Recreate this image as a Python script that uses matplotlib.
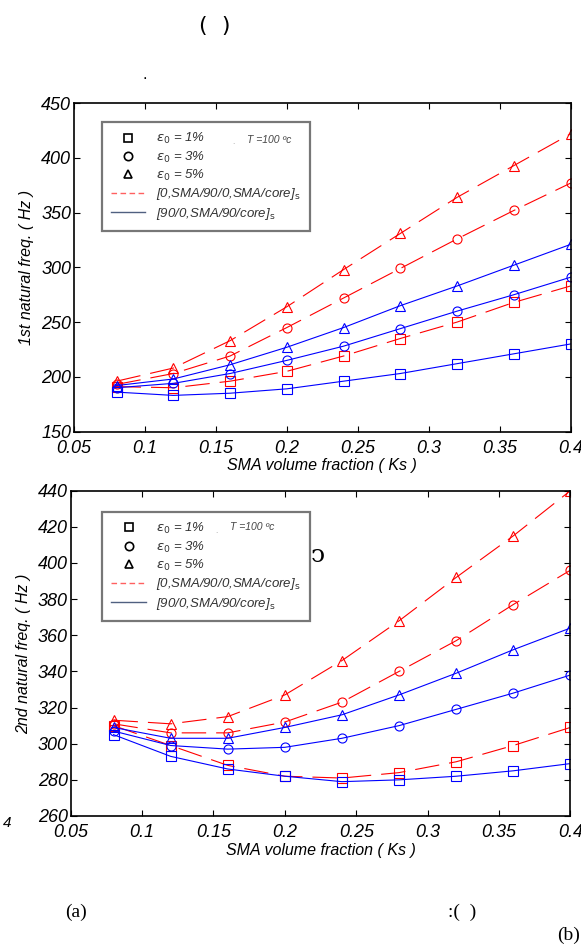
import numpy as np
import matplotlib.pyplot as plt
from matplotlib.lines import Line2D

# SMA volume fraction
ks = [0.08, 0.12, 0.16, 0.20, 0.24, 0.28, 0.32, 0.36, 0.40]

# 1st natural frequency (Hz)
f1_red_sq = [191, 190, 196, 205, 219, 235, 250, 268, 283]
f1_red_ci = [193, 203, 219, 245, 272, 299, 326, 352, 377]
f1_red_tr = [196, 208, 233, 264, 298, 331, 364, 393, 422]
f1_blu_sq = [186, 183, 185, 189, 196, 203, 212, 221, 230]
f1_blu_ci = [190, 194, 203, 215, 228, 244, 260, 275, 291]
f1_blu_tr = [192, 198, 211, 227, 245, 265, 283, 302, 321]

# 2nd natural frequency (Hz)
f2_red_sq = [310, 299, 288, 282, 281, 284, 290, 299, 309]
f2_red_ci = [311, 306, 306, 312, 323, 340, 357, 377, 396]
f2_red_tr = [313, 311, 315, 327, 346, 368, 392, 415, 440]
f2_blu_sq = [305, 293, 286, 282, 279, 280, 282, 285, 289]
f2_blu_ci = [307, 299, 297, 298, 303, 310, 319, 328, 338]
f2_blu_tr = [309, 303, 303, 309, 316, 327, 339, 352, 364]

xticks = [0.05, 0.1, 0.15, 0.2, 0.25, 0.3, 0.35, 0.4]
xtick_labels = ["0.05", "0.1", "0.15", "0.2", "0.25", "0.3", "0.35", "0.4"]

plt.rcParams['font.family'] = ['Liberation Sans', 'DejaVu Sans']

RED = "#ff0000"
BLUE = "#0000ff"
dash = (0, (22, 9))

fig = plt.figure(figsize=(5.81, 9.44), dpi=100)
fig.set_facecolor("white")


def draw_panel(ax, series, ylim, yticks, ylabel, leg_anchor):
    for y, c, m in series:
        ls = dash if c == RED else "-"
        ax.plot(ks, y, color=c, linestyle=ls, linewidth=0.8,
                marker=m, markersize=6.5, markerfacecolor="none",
                markeredgewidth=0.8)
    ax.set_xlim(0.05, 0.4)
    ax.set_ylim(*ylim)
    ax.set_xticks(xticks)
    ax.set_xticklabels(xtick_labels)
    ax.set_yticks(yticks)
    ax.tick_params(direction="in", top=True, right=True, length=4,
                   width=0.8, labelsize=13, pad=2)
    for lab in ax.get_xticklabels() + ax.get_yticklabels():
        lab.set_style("italic")
    ax.tick_params(axis="x", pad=6)
    for sp in ax.spines.values():
        sp.set_linewidth(1.2)
    ax.set_xlabel("SMA volume fraction ( Ks )", fontsize=11.5,
                  style="italic", labelpad=1)
    ax.set_ylabel(ylabel, fontsize=11.5, style="italic", labelpad=5)

    handles = [
        Line2D([], [], color="black", marker="s", linestyle="none",
               markersize=6, markerfacecolor="none", markeredgewidth=1.2),
        Line2D([], [], color="black", marker="o", linestyle="none",
               markersize=6, markerfacecolor="none", markeredgewidth=1.2),
        Line2D([], [], color="black", marker="^", linestyle="none",
               markersize=6, markerfacecolor="none", markeredgewidth=1.2),
        Line2D([], [], color="#ff6060", linestyle=(0, (4, 2.5)), linewidth=1),
        Line2D([], [], color="#506080", linestyle="-", linewidth=1),
    ]
    labels = [r"$\varepsilon_0$ = 1%", r"$\varepsilon_0$ = 3%",
              r"$\varepsilon_0$ = 5%",
              r"[0,SMA/90/0,SMA/core]$_\mathrm{s}$",
              r"[90/0,SMA/90/core]$_\mathrm{s}$"]
    leg = ax.legend(handles, labels, loc="upper left",
                    bbox_to_anchor=leg_anchor, fontsize=9.5,
                    frameon=True, fancybox=False, handlelength=2.6,
                    handletextpad=0.8, labelspacing=0.25, borderpad=0.7,
                    borderaxespad=0)
    fr = leg.get_frame()
    fr.set_edgecolor("#555555")
    fr.set_linewidth(1.6)
    for t in leg.get_texts():
        t.set_style("italic")
        t.set_color("#333333")
    return leg


ax1 = fig.add_axes([0.1274, 0.5429, 0.8546, 0.3477])
series1 = [
    (f1_red_tr, RED, "^"), (f1_red_ci, RED, "o"), (f1_red_sq, RED, "s"),
    (f1_blu_tr, BLUE, "^"), (f1_blu_ci, BLUE, "o"), (f1_blu_sq, BLUE, "s"),
]
leg1 = draw_panel(ax1, series1, (150, 450), np.arange(150, 451, 50),
                  "1st natural freq. ( Hz )", (0.056, 0.943))
t1 = ax1.text(0.348, 0.888, "T =100 ºc", transform=ax1.transAxes,
              fontsize=7.5, style="italic", color="#444444",
              verticalalignment="center", zorder=10)
ax1.text(0.318, 0.88, ".", transform=ax1.transAxes, fontsize=6,
         color="#999999", verticalalignment="center", zorder=10)

ax2 = fig.add_axes([0.1217, 0.1356, 0.8600, 0.3446])
series2 = [
    (f2_red_tr, RED, "^"), (f2_red_ci, RED, "o"), (f2_red_sq, RED, "s"),
    (f2_blu_tr, BLUE, "^"), (f2_blu_ci, BLUE, "o"), (f2_blu_sq, BLUE, "s"),
]
leg2 = draw_panel(ax2, series2, (260, 440), np.arange(260, 441, 20),
                  "2nd natural freq. ( Hz )", (0.063, 0.935))
ax2.text(0.319, 0.888, "T =100 ºc", transform=ax2.transAxes,
         fontsize=7.5, style="italic", color="#444444",
         verticalalignment="center", zorder=10)
ax2.text(0.29, 0.875, ".", transform=ax2.transAxes, fontsize=6,
         color="#999999", verticalalignment="center", zorder=10)
ax2.text(0.495, 0.80, "ͻ", transform=ax2.transAxes, fontsize=18,
         family="DejaVu Serif", color="black", ha="center", va="center")

# stray scan text around the panels
fig.text(0.37, 0.972, "(  )", fontsize=16, ha="center", va="center",
         family="DejaVu Sans")
fig.text(0.25, 0.921, ".", fontsize=12, ha="center", va="center")
fig.text(0.013, 0.128, "4", fontsize=11, style="italic", ha="center",
         va="center")
fig.text(0.13, 0.034, "(a)", fontsize=14, family="Liberation Serif",
         ha="center", va="center")
fig.text(0.795, 0.034, ":(  )", fontsize=14, family="Liberation Serif",
         ha="center", va="center")
fig.text(0.978, 0.0, "(b)", fontsize=14, family="Liberation Serif",
         ha="center", va="bottom")

fig.savefig("out.png", dpi=100)
